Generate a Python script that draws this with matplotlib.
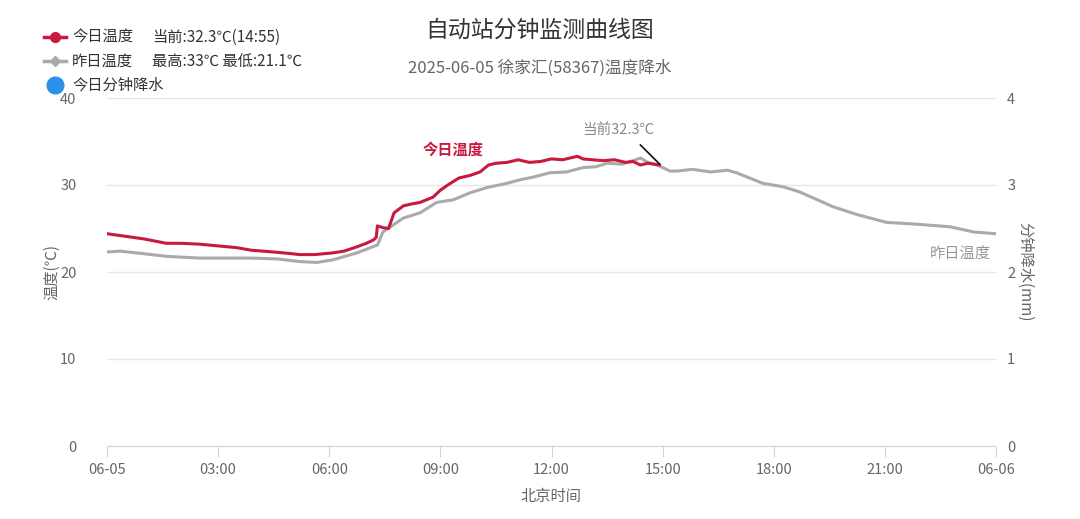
import matplotlib.pyplot as plt
from matplotlib.lines import Line2D

plt.rcParams['font.family'] = ['Noto Sans CJK SC', 'DejaVu Sans']

# today's temperature (hours after 00:00, degC)
today_t = [0, 0.5, 1, 1.6, 2, 2.5, 3, 3.5, 3.9, 4.5, 5, 5.2, 5.6, 6.1, 6.4, 6.75, 7.0, 7.2, 7.27,
           7.3, 7.45, 7.6, 7.75, 8.0, 8.2, 8.45, 8.8, 9.0, 9.2, 9.5, 9.8, 10.07, 10.3, 10.5, 10.8,
           11.1, 11.4, 11.7, 12.0, 12.3, 12.5, 12.7, 12.85, 13.1, 13.4, 13.7, 14.0, 14.2, 14.4,
           14.6, 14.92]
today_v = [24.4, 24.1, 23.8, 23.3, 23.3, 23.2, 23.0, 22.8, 22.5, 22.3, 22.1, 22.0, 22.0, 22.2,
           22.4, 22.9, 23.3, 23.7, 24.0, 25.3, 25.1, 25.0, 26.8, 27.6, 27.8, 28.0, 28.6, 29.4,
           30.0, 30.8, 31.1, 31.5, 32.3, 32.5, 32.6, 32.9, 32.6, 32.7, 33.0, 32.9, 33.1, 33.3,
           33.0, 32.9, 32.8, 32.9, 32.6, 32.7, 32.3, 32.5, 32.3]

# yesterday's temperature
yest_t = [0, 0.35, 1, 1.6, 2.5, 3.9, 4.6, 5.2, 5.67, 6.1, 6.75, 7.3, 7.45, 8.0, 8.45, 8.9, 9.35,
          9.8, 10.25, 10.8, 11.15, 11.5, 11.95, 12.4, 12.85, 13.2, 13.5, 13.9, 14.2, 14.4, 14.6,
          14.85, 15.2, 15.4, 15.8, 16.3, 16.75, 17.0, 17.7, 18.25, 18.7, 19.6, 20.25, 21.05,
          21.85, 22.75, 23.4, 24.0]
yest_v = [22.3, 22.4, 22.1, 21.8, 21.6, 21.6, 21.5, 21.2, 21.1, 21.4, 22.2, 23.1, 24.6, 26.2,
          26.8, 28.0, 28.3, 29.1, 29.7, 30.2, 30.6, 30.9, 31.4, 31.5, 32.0, 32.1, 32.5, 32.4,
          32.8, 33.1, 32.6, 32.3, 31.6, 31.6, 31.8, 31.5, 31.7, 31.4, 30.2, 29.8, 29.2, 27.5,
          26.6, 25.7, 25.5, 25.2, 24.6, 24.4]

x_ticks = [0, 3, 6, 9, 12, 15, 18, 21, 24]
x_labels = ['06-05', '03:00', '06:00', '09:00', '12:00', '15:00', '18:00', '21:00', '06-06']
y_ticks = [0, 10, 20, 30, 40]
y2_ticks = [0, 1, 2, 3, 4]

RED = '#c8193f'
GRAY = '#aaaaaa'
TXT = '#666666'

W, H = 1080, 519
fig = plt.figure(figsize=(W / 100, H / 100), dpi=100)


def px(x, y):
    return x / W, 1 - y / H


ax = fig.add_axes([107 / W, 1 - 446 / H, (996 - 107) / W, (446 - 98) / H])
ax.set_xlim(0, 24)
ax.set_ylim(0, 40)
ax.plot(yest_t, yest_v, color=GRAY, lw=2.2, solid_capstyle='round', zorder=3)
ax.plot(today_t, today_v, color=RED, lw=2.2, solid_capstyle='round', zorder=4)

for s in ['top', 'right', 'left']:
    ax.spines[s].set_visible(False)
ax.spines['bottom'].set_color('#ccd6eb')
ax.set_xticks(x_ticks)
ax.set_xticklabels(x_labels)
ax.set_yticks(y_ticks)
ax.grid(axis='y', color='#e6e6e6', lw=1)
ax.set_axisbelow(True)
ax.tick_params(axis='x', colors='#ccd6eb', labelcolor=TXT, length=8, labelsize=10.5, pad=4)
ax.tick_params(axis='y', length=0, labelcolor=TXT, labelsize=10.5, pad=22)
ax.set_xlabel('北京时间', color=TXT, fontsize=11, labelpad=8)
ax.set_ylabel('温度(℃)', color=TXT, fontsize=11, labelpad=0)

ax2 = ax.twinx()
ax2.set_ylim(0, 4)
ax2.set_yticks(y2_ticks)
for s in ['top', 'right', 'left', 'bottom']:
    ax2.spines[s].set_visible(False)
ax2.tick_params(axis='y', length=0, labelcolor=TXT, labelsize=10.5, pad=8)
ax2.set_ylabel('分钟降水(mm)', color=TXT, fontsize=11, rotation=270, labelpad=13)

# titles
fig.text(*px(540, 30), '自动站分钟监测曲线图', ha='center', va='center', fontsize=16.5, color='#333333')
fig.text(*px(540, 68), '2025-06-05 徐家汇(58367)温度降水', ha='center', va='center',
         fontsize=12, color=TXT)

# legend
fig.add_artist(Line2D([44 / W, 66 / W], [1 - 37 / H] * 2, color=RED, lw=2.5,
                      transform=fig.transFigure))
fig.add_artist(Line2D([55 / W], [1 - 37 / H], color=RED, marker='o', ms=7,
                      transform=fig.transFigure))
fig.add_artist(Line2D([44 / W, 66 / W], [1 - 61 / H] * 2, color=GRAY, lw=2.5,
                      transform=fig.transFigure))
fig.add_artist(Line2D([55 / W], [1 - 61 / H], color=GRAY, marker='D', ms=5.5,
                      transform=fig.transFigure))
fig.add_artist(Line2D([55 / W], [1 - 85 / H], color='#2b90e8', marker='o', ms=12, lw=0,
                      transform=fig.transFigure))
leg_kw = dict(va='center', ha='left', fontsize=11, color='#333333')
fig.text(*px(72, 37), '今日温度', **leg_kw)
fig.text(*px(152, 37), '当前:32.3℃(14:55)', **leg_kw)
fig.text(*px(72, 61), '昨日温度', **leg_kw)
fig.text(*px(152, 61), '最高:33℃ 最低:21.1℃', **leg_kw)
fig.text(*px(72, 85), '今日分钟降水', **leg_kw)

# annotations
ax.text(9.34, 34.1, '今日温度', color=RED, fontsize=11, fontweight='bold', ha='center', va='center')
ax.text(13.8, 36.3, '当前32.3℃', color='#888888', fontsize=10.5, ha='center', va='center')
ax.plot([14.4, 14.92], [34.6, 32.4], color='#111111', lw=1.2, zorder=5)
ax.text(23.85, 22.2, '昨日温度', color='#999999', fontsize=11, ha='right', va='center')

fig.savefig('out.png', dpi=100)
